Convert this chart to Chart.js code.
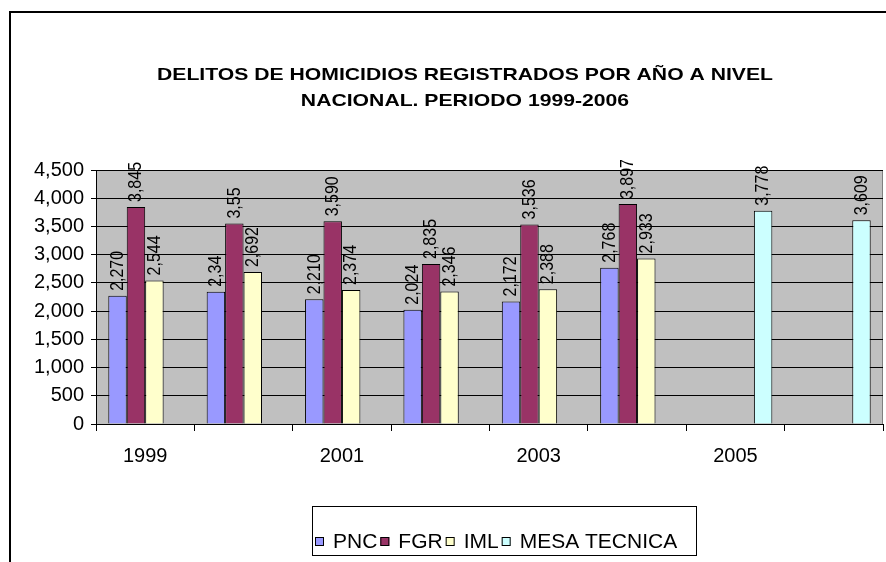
<!DOCTYPE html>
<html>
<head>
<meta charset="utf-8">
<script src="https://cdn.jsdelivr.net/npm/chart.js@4/dist/chart.umd.min.js"></script>
<style>
  body { margin: 0; background: #fff; }
  canvas { display: block; }
</style>
</head>
<body>
<canvas id="homicidios" width="886" height="562"></canvas>
<script>
// data
var years = ["1999", "2000", "2001", "2002", "2003", "2004", "2005", "2006"];
var pnc  = [2270, 2341, 2210, 2024, 2172, 2768, null, null];
var fgr  = [3845, 3551, 3590, 2835, 3536, 3897, null, null];
var iml  = [2544, 2692, 2374, 2346, 2388, 2933, null, null];
var mesa = [null, null, null, null, null, null, 3778, 3609];
// labels that show cut short in the original
var shortLabels = { "PNC": { 1: "2,34" }, "FGR": { 1: "3,55" } };
var titleLines = ["DELITOS DE HOMICIDIOS REGISTRADOS POR AÑO A NIVEL", "NACIONAL. PERIODO 1999-2006"];

var FONT = "'Liberation Sans', Arial, sans-serif";

function fmt(v){
  return v.toLocaleString("en-US");
}

var excelLook = {
  id: "excelLook",
  beforeDraw: function(chart){
    var ctx = chart.ctx, a = chart.chartArea;
    ctx.save();
    ctx.fillStyle = "#fff";
    ctx.fillRect(0, 0, chart.width, chart.height);
    ctx.fillStyle = "#C0C0C0";
    ctx.fillRect(a.left, a.top, a.right - a.left, a.bottom - a.top);
    ctx.strokeStyle = "#808080";
    ctx.lineWidth = 1;
    ctx.strokeRect(a.left + 0.5, a.top + 0.5, a.right - a.left - 1, a.bottom - a.top);
    // outer chart border
    ctx.strokeStyle = "#000";
    ctx.lineWidth = 2;
    ctx.beginPath();
    ctx.moveTo(10, chart.height);
    ctx.lineTo(10, 12);
    ctx.lineTo(chart.width, 12);
    ctx.stroke();
    // title, a bit wide like the excel one
    ctx.fillStyle = "#000";
    ctx.font = "bold 17px " + FONT;
    ctx.textAlign = "center";
    ctx.textBaseline = "middle";
    var sx = 616 / ctx.measureText(titleLines[0]).width;
    titleLines.forEach(function(line, i){
      ctx.save();
      ctx.translate(465, 75 + i * 26);
      ctx.scale(sx, 1);
      ctx.fillText(line, 0, 0);
      ctx.restore();
    });
    ctx.restore();
  },
  afterDatasetsDraw: function(chart){
    var ctx = chart.ctx;
    ctx.save();
    ctx.fillStyle = "#000";
    ctx.font = "16px " + FONT;
    ctx.textAlign = "left";
    ctx.textBaseline = "middle";
    chart.data.datasets.forEach(function(ds, i){
      var meta = chart.getDatasetMeta(i);
      meta.data.forEach(function(bar, j){
        var v = ds.data[j];
        if(v === null) return;
        var txt = fmt(v);
        if(shortLabels[ds.label] && shortLabels[ds.label][j]) txt = shortLabels[ds.label][j];
        ctx.save();
        ctx.translate(bar.x, bar.y - 5);
        ctx.rotate(-Math.PI / 2);
        ctx.scale(1, 1.2);
        ctx.fillText(txt, 0, 0);
        ctx.restore();
      });
    });
    ctx.restore();
  },
  afterDraw: function(chart){
    // legend box like the excel one
    var ctx = chart.ctx;
    ctx.save();
    ctx.strokeStyle = "#000";
    ctx.lineWidth = 1;
    ctx.strokeRect(312.5, 506.5, 384, 49);
    ctx.font = "20px " + FONT;
    ctx.textBaseline = "middle";
    ctx.textAlign = "left";
    var x = 315, y = 542, sx = 1.05;
    chart.data.datasets.forEach(function(ds){
      ctx.fillStyle = ds.backgroundColor;
      ctx.fillRect(x, y - 5, 9, 9);
      ctx.strokeRect(x + 0.5, y - 4.5, 8, 8);
      x += 18;
      ctx.save();
      ctx.translate(x, y);
      ctx.scale(sx, 1);
      ctx.fillStyle = "#000";
      ctx.fillText(ds.label, 0, 0);
      ctx.restore();
      x += ctx.measureText(ds.label).width * sx + 3;
    });
    ctx.restore();
  }
};

var ctx = document.getElementById("homicidios");
var chart = new Chart(ctx, {
  type: "bar",
  data: {
    labels: years,
    datasets: [
      { label: "PNC", data: pnc, backgroundColor: "#9999FF", borderColor: "#000", borderWidth: 1 },
      { label: "FGR", data: fgr, backgroundColor: "#993366", borderColor: "#000", borderWidth: 1 },
      { label: "IML", data: iml, backgroundColor: "#FFFFCC", borderColor: "#000", borderWidth: 1 },
      { label: "MESA TECNICA", data: mesa, backgroundColor: "#CCFFFF", borderColor: "#000", borderWidth: 1 }
    ]
  },
  options: {
    responsive: false,
    animation: false,
    datasets: { bar: { barPercentage: 1, categoryPercentage: 0.75 } },
    layout: { padding: { left: 9, right: 3, top: 170, bottom: 0 } },
    plugins: {
      legend: { display: false },
      tooltip: { enabled: false },
      title: { display: false }
    },
    scales: {
      x: {
        offset: true,
        grid: { offset: true, drawOnChartArea: false, tickLength: 7, tickColor: "#000", lineWidth: 1 },
        border: { color: "#000", width: 1 },
        ticks: {
          autoSkip: false,
          maxRotation: 0,
          padding: 13,
          color: "#000",
          font: { family: FONT, size: 20 },
          callback: function(v, i){ return i % 2 === 0 ? this.getLabelForValue(v) : ""; }
        },
        afterFit: function(scale){ scale.height = 138; }
      },
      y: {
        min: 0,
        max: 4500,
        grid: { color: "#000", tickColor: "#000", tickLength: 5, lineWidth: 1 },
        border: { color: "#000", width: 1 },
        ticks: {
          stepSize: 500,
          padding: 7,
          color: "#000",
          font: { family: FONT, size: 20 },
          callback: function(v){ return fmt(v); }
        },
        afterFit: function(scale){ scale.width = 87; }
      }
    }
  },
  plugins: [excelLook]
});
</script>
</body>
</html>
